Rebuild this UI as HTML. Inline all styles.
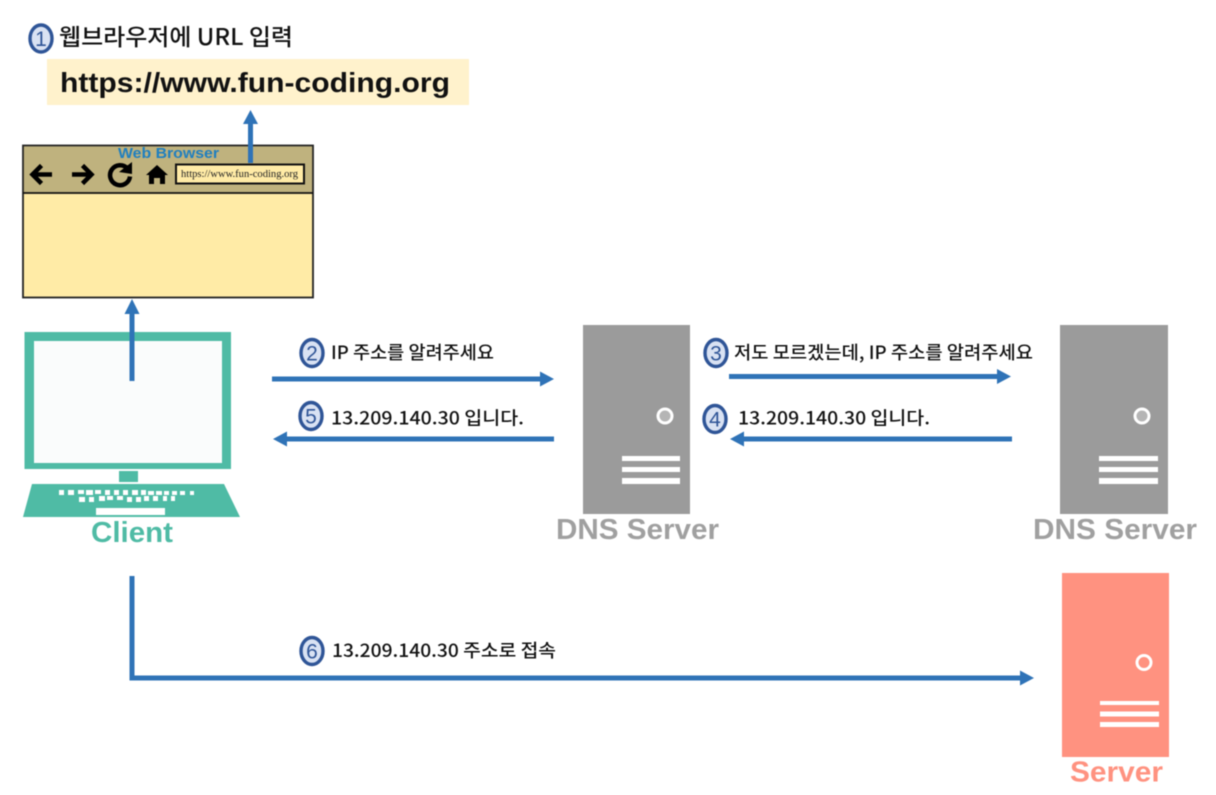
<!DOCTYPE html>
<html>
<head>
<meta charset="utf-8">
<style>
html,body{margin:0;padding:0;background:#fff;width:1216px;height:795px;overflow:hidden}
svg{display:block;filter:blur(.5px)}
text{font-family:"Liberation Sans","Noto Sans CJK KR",sans-serif}
.lb{font-size:18px;font-weight:500;fill:#111;font-family:"Noto Sans CJK KR","Liberation Sans",sans-serif}
.n{font-size:21px;fill:#2F5597;text-anchor:middle}
.t{font-size:28.500px;font-weight:bold}
.b{fill:#D9E2F3;stroke:#2F5597;stroke-width:3.4}
</style>
</head>
<body>
<svg width="1216" height="795" viewBox="0 0 1216 795" xmlns="http://www.w3.org/2000/svg">
<rect width="1216" height="795" fill="#fff"/>

<!-- step 1 -->
<ellipse class="b" cx="41" cy="38.500" rx="11" ry="13.500"/><text class="n" x="41" y="46">1</text>
<text x="59" y="45" style="font-size:23px;font-weight:500;fill:#111;font-family:'Noto Sans CJK KR','Liberation Sans',sans-serif" textLength="234" lengthAdjust="spacingAndGlyphs">웹브라우저에 URL 입력</text>
<rect x="47" y="59" width="422" height="46" fill="#FFF2CC"/>
<text x="60" y="92" style="font-size:28px;font-weight:bold;fill:#111" textLength="390" lengthAdjust="spacingAndGlyphs">https://www.fun-coding.org</text>

<!-- browser -->
<rect x="23" y="145.500" width="290" height="152" fill="#FFEBA6" stroke="#222" stroke-width="1.800"/>
<rect x="24" y="146.500" width="288" height="46.500" fill="#BFB27E"/>
<line x1="23" y1="193" x2="313" y2="193" stroke="#111" stroke-width="1.800"/>
<text x="118" y="158" style="font-size:15px;font-weight:bold;fill:#1F7FBF" textLength="101" lengthAdjust="spacingAndGlyphs">Web Browser</text>
<path d="M52 174.500H33M41.500 165.500l-9 9 9 9" fill="none" stroke="#000" stroke-width="4.500"/>
<path d="M72 174.500h19M82.500 165.500l9 9-9 9" fill="none" stroke="#000" stroke-width="4.500"/>
<path d="M127.500 168.500a10 10 0 1 0 2.500 8" fill="none" stroke="#000" stroke-width="4.500"/>
<path d="M119 172l13-10v12z" fill="#000"/>
<path d="M157 165l11 10h-3v9h-5v-6h-6v6h-5v-9h-3z" fill="#000"/>
<rect x="176" y="164.500" width="128" height="19" fill="#FFEBA6" stroke="#111" stroke-width="2"/>
<text x="181" y="177" style="font-size:10.500px;fill:#222;font-family:'Liberation Serif',serif" textLength="117" lengthAdjust="spacingAndGlyphs">https://www.fun-coding.org</text>

<!-- up arrows -->
<line x1="250.500" y1="163" x2="250.500" y2="122" stroke="#2F73B7" stroke-width="5"/>
<path d="M250.500 110l7.500 14h-15z" fill="#2F73B7"/>

<!-- client -->
<rect x="24.500" y="332" width="206.500" height="137" fill="#4FBBA5"/>
<rect x="34" y="341" width="188" height="122" fill="#FAFCFC"/>
<rect x="119" y="471" width="19" height="11" fill="#4FBBA5"/>
<path d="M32 484H224L240 517H23z" fill="#4FBBA5"/>
<g fill="#fff">
<rect x="59" y="490" width="5" height="5"/><rect x="68" y="490" width="6" height="5"/><rect x="78" y="490" width="6" height="4"/><rect x="86" y="490" width="7" height="5"/><rect x="95" y="490" width="6" height="4"/><rect x="105" y="490" width="5" height="5"/><rect x="114" y="490" width="5" height="5"/><rect x="123" y="490" width="5" height="5"/><rect x="132" y="490" width="6" height="5"/><rect x="141" y="490" width="5" height="5"/><rect x="148" y="491" width="6" height="4"/><rect x="156" y="491" width="6" height="4"/><rect x="164" y="491" width="5" height="4"/><rect x="172" y="491" width="5" height="4"/><rect x="180" y="491" width="5" height="4"/><rect x="190" y="491" width="4" height="4"/>
<rect x="79" y="497" width="6" height="5"/><rect x="89" y="497" width="5" height="5"/><rect x="99" y="496" width="6" height="5"/><rect x="107" y="496" width="6" height="4"/><rect x="117" y="496" width="6" height="4"/><rect x="127" y="497" width="5" height="5"/><rect x="136" y="497" width="5" height="5"/><rect x="144" y="496" width="5" height="5"/><rect x="153" y="496" width="5" height="5"/><rect x="163" y="496" width="4" height="5"/><rect x="171" y="496" width="4" height="5"/>
<rect x="96" y="508" width="69" height="7"/>
</g>
<text class="t" x="91" y="542" fill="#4FBBA5" textLength="82" lengthAdjust="spacingAndGlyphs">Client</text>
<line x1="132" y1="381" x2="132" y2="312" stroke="#2F73B7" stroke-width="5"/>
<path d="M132 299l7.500 15h-15z" fill="#2F73B7"/>

<!-- step 2 / 5 -->
<ellipse class="b" cx="312" cy="353" rx="11" ry="13.500"/><text class="n" x="312" y="360.500">2</text>
<text class="lb" x="331" y="359" textLength="163" lengthAdjust="spacingAndGlyphs">IP 주소를 알려주세요</text>
<line x1="272" y1="379" x2="542" y2="379" stroke="#2F73B7" stroke-width="5"/>
<path d="M554 379l-14-7.500v15z" fill="#2F73B7"/>
<ellipse class="b" cx="311" cy="416" rx="11" ry="13.500"/><text class="n" x="311" y="423.500">5</text>
<text class="lb" x="331" y="424.500" textLength="193" lengthAdjust="spacingAndGlyphs">13.209.140.30 입니다.</text>
<line x1="285" y1="439" x2="554" y2="439" stroke="#2F73B7" stroke-width="5"/>
<path d="M273 439l14-7.500v15z" fill="#2F73B7"/>

<!-- DNS 1 -->
<rect x="583" y="325" width="107" height="189" fill="#9B9B9B"/>
<circle cx="665" cy="416" r="7" fill="#B5B5B5" stroke="#fff" stroke-width="3"/>
<g fill="#fff"><rect x="622" y="456" width="58" height="5"/><rect x="622" y="467" width="58" height="5"/><rect x="622" y="478" width="58" height="6"/></g>
<text class="t" x="556" y="539" fill="#A0A0A0" textLength="163" lengthAdjust="spacingAndGlyphs">DNS Server</text>

<!-- step 3 / 4 -->
<ellipse class="b" cx="716" cy="353" rx="11" ry="13.500"/><text class="n" x="716" y="360.500">3</text>
<text class="lb" x="734" y="359" textLength="299" lengthAdjust="spacingAndGlyphs">저도 모르겠는데, IP 주소를 알려주세요</text>
<line x1="729" y1="376.500" x2="999" y2="376.500" stroke="#2F73B7" stroke-width="5"/>
<path d="M1011 376.500l-14-7.500v15z" fill="#2F73B7"/>
<ellipse class="b" cx="715" cy="419" rx="11" ry="13.500"/><text class="n" x="715" y="426.500">4</text>
<text class="lb" x="738" y="424.500" textLength="192" lengthAdjust="spacingAndGlyphs">13.209.140.30 입니다.</text>
<line x1="742" y1="439" x2="1012" y2="439" stroke="#2F73B7" stroke-width="5"/>
<path d="M730 439l14-7.500v15z" fill="#2F73B7"/>

<!-- DNS 2 -->
<rect x="1060" y="325" width="108" height="189" fill="#9B9B9B"/>
<circle cx="1142" cy="416" r="7" fill="#B5B5B5" stroke="#fff" stroke-width="3"/>
<g fill="#fff"><rect x="1099" y="456" width="59" height="5"/><rect x="1099" y="467" width="59" height="5"/><rect x="1099" y="478" width="59" height="6"/></g>
<text class="t" x="1033" y="539" fill="#A0A0A0" textLength="164" lengthAdjust="spacingAndGlyphs">DNS Server</text>

<!-- step 6 -->
<path d="M132 576V678H1022" fill="none" stroke="#2F73B7" stroke-width="5"/>
<path d="M1034 678l-14-7.500v15z" fill="#2F73B7"/>
<ellipse class="b" cx="312" cy="651" rx="11" ry="13.500"/><text class="n" x="312" y="658.500">6</text>
<text class="lb" x="332" y="657" textLength="224" lengthAdjust="spacingAndGlyphs">13.209.140.30 주소로 접속</text>

<!-- server -->
<rect x="1062" y="573" width="107" height="184" fill="#FF9280"/>
<circle cx="1144" cy="662.500" r="7" fill="#FF9280" stroke="#fff" stroke-width="3"/>
<g fill="#fff"><rect x="1100" y="701" width="59" height="4"/><rect x="1100" y="711.500" width="59" height="5"/><rect x="1100" y="722" width="59" height="5"/></g>
<text class="t" x="1070" y="781.500" fill="#FF9280" textLength="93" lengthAdjust="spacingAndGlyphs">Server</text>
</svg>
</body>
</html>
